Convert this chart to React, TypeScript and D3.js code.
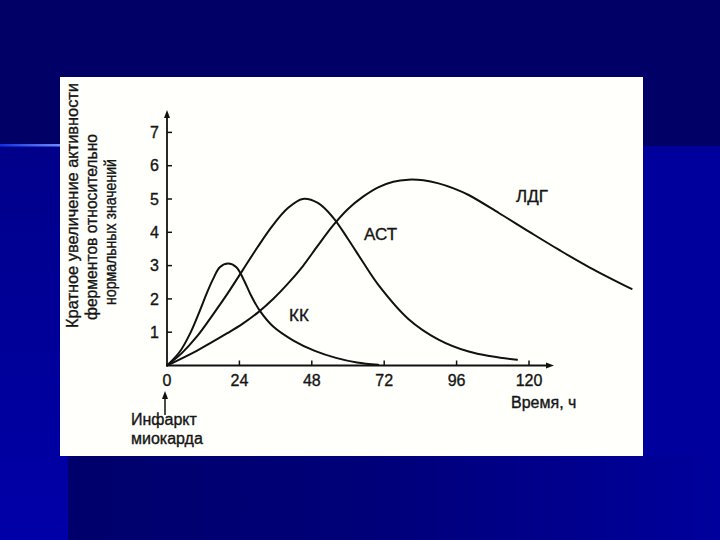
import React from "react";
import * as d3 from "d3";

// Data (hours after infarction, fold increase over normal)
const kkHours = [0, 4.3, 7.6, 10.9, 13.1, 15.3, 17.5, 20.3, 23, 25.3, 28, 30.8, 35.2, 41.9, 49, 56, 63, 70];
const kkValues = [0, 0.42, 0.95, 1.65, 2.15, 2.6, 2.95, 3.06, 2.95, 2.6, 2.08, 1.64, 1.17, 0.75, 0.44, 0.23, 0.09, 0.02];

const astHours = [0, 5, 10, 15, 20, 25, 30, 35, 40, 45, 50, 55, 60, 65, 70, 80, 90, 100, 108, 116];
const astValues = [0, 0.38, 0.88, 1.5, 2.15, 2.85, 3.55, 4.2, 4.72, 5.0, 4.88, 4.45, 3.8, 3.1, 2.43, 1.4, 0.78, 0.42, 0.27, 0.17];

const ldgHours = [0, 10, 20, 25, 30, 35, 40, 45, 50, 55, 60, 65, 70, 75, 80, 85, 90, 95, 100, 110, 120, 130, 140, 154];
const ldgValues = [0, 0.45, 0.97, 1.25, 1.58, 1.98, 2.45, 2.98, 3.6, 4.2, 4.7, 5.07, 5.35, 5.52, 5.58, 5.56, 5.47, 5.32, 5.12, 4.58, 4.02, 3.47, 2.95, 2.3];

const xTicks = [0, 24, 48, 72, 96, 120];
const yTicks = [1, 2, 3, 4, 5, 6, 7];
const seriesNames = ["КК", "АСТ", "ЛДГ"];
const yLabelLines = ["Кратное увеличение активности", "ферментов относительно", "нормальных значений"];
const xAxisTitle = "Время, ч";
const eventLines = ["Инфаркт", "миокарда"];

const FONT = "'Liberation Sans', Arial, Helvetica, sans-serif";
const INK = "#151515";

export default function App() {
  const x = d3.scaleLinear().domain([0, 120]).range([167, 529]);
  const y = d3.scaleLinear().domain([0, 7]).range([365.5, 132.4]);

  const line = d3
    .line<[number, number]>()
    .x((d) => x(d[0]))
    .y((d) => y(d[1]))
    .curve(d3.curveCatmullRom.alpha(0.5));

  const series = [
    { name: seriesNames[0], pts: kkHours.map((h, i) => [h, kkValues[i]] as [number, number]), lx: 289, ly: 321 },
    { name: seriesNames[1], pts: astHours.map((h, i) => [h, astValues[i]] as [number, number]), lx: 364, ly: 240 },
    { name: seriesNames[2], pts: ldgHours.map((h, i) => [h, ldgValues[i]] as [number, number]), lx: 516, ly: 202 },
  ];

  const x0 = x(0);
  const y0 = y(0);

  const yLabelPos = [
    { cx: 72, start: 328, len: 245 },
    { cx: 91, start: 320, len: 186 },
    { cx: 110, start: 305, len: 146 },
  ];

  const textProps = {
    fontFamily: FONT,
    fill: INK,
    stroke: INK,
    strokeWidth: 0.35,
  };

  return (
    <svg
      width={720}
      height={540}
      viewBox="0 0 720 540"
      style={{ position: "absolute", left: 0, top: 0, display: "block" }}
    >
      <defs>
        <linearGradient id="leftStrip" x1="0" y1="0" x2="0" y2="1">
          <stop offset="0" stopColor="#00008a" />
          <stop offset="1" stopColor="#0000a8" />
        </linearGradient>
        <linearGradient id="bottomBand" x1="0" y1="0" x2="1" y2="0">
          <stop offset="0" stopColor="#00006c" />
          <stop offset="0.45" stopColor="#000078" />
          <stop offset="1" stopColor="#00009c" />
        </linearGradient>
        <linearGradient id="glowLine" x1="0" y1="0" x2="1" y2="0">
          <stop offset="0" stopColor="#1030e0" />
          <stop offset="1" stopColor="#7090ff" />
        </linearGradient>
      </defs>

      {/* slide background */}
      <rect x={0} y={0} width={720} height={540} fill="#000066" />
      <rect x={0} y={146} width={68} height={394} fill="url(#leftStrip)" />
      <rect x={643} y={146} width={77} height={394} fill="#00009c" />
      <rect x={68} y={456} width={652} height={84} fill="url(#bottomBand)" />
      <rect x={0} y={144} width={62} height={2.5} fill="url(#glowLine)" />

      {/* white picture panel */}
      <rect x={60} y={77} width={583} height={379} fill="#fffffb" />

      {/* y-axis title */}
      {yLabelLines.map((t, i) => (
        <text
          key={i}
          transform={`translate(${yLabelPos[i].cx},${yLabelPos[i].start}) rotate(-90)`}
          {...textProps}
          fontSize={16}
          textLength={yLabelPos[i].len}
          lengthAdjust="spacingAndGlyphs"
          dy="0.35em"
        >
          {t}
        </text>
      ))}

      {/* axes */}
      <g stroke="#111" strokeWidth={1.8} fill="none">
        <line x1={x0} y1={y0} x2={x0} y2={116} />
        <line x1={x0} y1={y0} x2={548} y2={y0} />
      </g>
      <path d={`M${x0},110 L${x0 - 3},118 L${x0 + 3},118 Z`} fill="#111" />
      <path d={`M554,${y0} L546,${y0 - 3} L546,${y0 + 3} Z`} fill="#111" />

      {/* y ticks */}
      {yTicks.map((t) => (
        <g key={t}>
          <line x1={x0} x2={x0 + 5} y1={y(t)} y2={y(t)} stroke="#111" strokeWidth={1.5} />
          <text x={159} y={y(t)} dy="0.36em" textAnchor="end" {...textProps} fontSize={16}>
            {t}
          </text>
        </g>
      ))}

      {/* x ticks */}
      {xTicks.map((t) => (
        <g key={t}>
          {t > 0 && <line x1={x(t)} x2={x(t)} y1={y0} y2={y0 - 5} stroke="#111" strokeWidth={1.5} />}
          <text x={x(t)} y={385.5} textAnchor="middle" {...textProps} fontSize={16}>
            {t}
          </text>
        </g>
      ))}

      <text x={511} y={408} {...textProps} fontSize={16}>
        {xAxisTitle}
      </text>

      {/* infarction marker */}
      <line x1={165} x2={165} y1={396} y2={415} stroke="#111" strokeWidth={1.5} />
      <path d="M165,391 L162,399 L168,399 Z" fill="#111" />
      {eventLines.map((t, i) => (
        <text key={i} x={131} y={425 + i * 19} {...textProps} fontSize={16}>
          {t}
        </text>
      ))}

      {/* curves */}
      {series.map((s) => (
        <g key={s.name}>
          <path
            d={line(s.pts) || ""}
            fill="none"
            stroke="#111"
            strokeWidth={2}
            strokeLinejoin="round"
            strokeLinecap="round"
          />
          <text x={s.lx} y={s.ly} {...textProps} fontSize={17}>
            {s.name}
          </text>
        </g>
      ))}
    </svg>
  );
}
